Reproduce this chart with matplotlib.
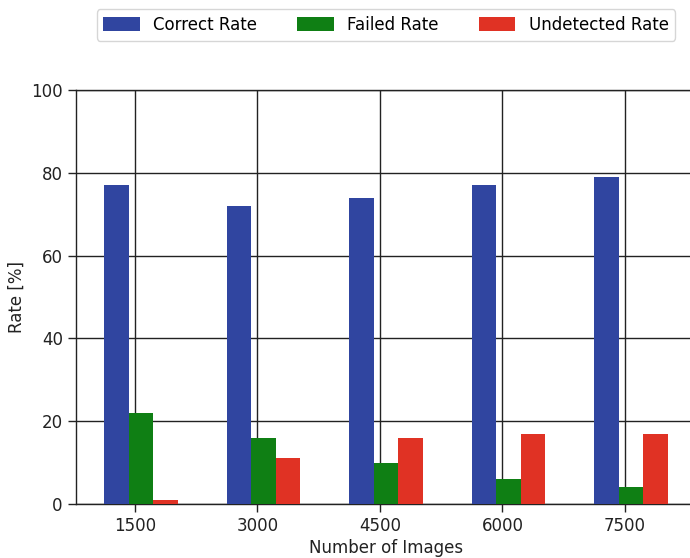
import matplotlib
matplotlib.use("Agg")
import matplotlib.pyplot as plt
import numpy as np

# data
image_counts = ["1500", "3000", "4500", "6000", "7500"]
correct_rate = [77, 72, 74, 77, 79]
failed_rate = [22, 16, 10, 6, 4]
undetected_rate = [1, 11, 16, 17, 17]

plt.rcParams['font.family'] = ['DejaVu Sans']

fig = plt.figure(figsize=(6.9, 5.58), dpi=100)
ax = fig.add_axes([76 / 690, 54 / 558, 620 / 690, 414 / 558])

x = np.arange(len(image_counts))
w = 0.2
ax.bar(x - 0.15, correct_rate, w, color='#3045a0', label='Correct Rate', zorder=3)
ax.bar(x + 0.05, failed_rate, w, color='#0f7f14', label='Failed Rate', zorder=3)
ax.bar(x + 0.25, undetected_rate, w, color='#e03224', label='Undetected Rate', zorder=3)

ax.set_xticks(x)
ax.set_xticklabels(image_counts)
ax.set_xlim(-0.48, 4.58)
ax.set_ylim(0, 100)
ax.set_yticks([0, 20, 40, 60, 80, 100])
ax.tick_params(labelsize=12, length=6, width=1, color='#222222', labelcolor='#222222')

ax.grid(True, color='#222222', linewidth=1, zorder=0)
for spine in ax.spines.values():
    spine.set_color('#222222')
    spine.set_linewidth(1)

ax.set_xlabel('Number of Images', fontsize=12, color='#222222', labelpad=3)
ax.set_ylabel('Rate [%]', fontsize=12, color='#222222')

fig.legend(loc='upper center', bbox_to_anchor=(386 / 690, 0.992), ncol=3, fontsize=12,
           frameon=True, edgecolor='#cccccc', fancybox=True, handlelength=2.2,
           handleheight=0.9, columnspacing=2.4, borderaxespad=0.3)

fig.savefig('out.png', dpi=100)
